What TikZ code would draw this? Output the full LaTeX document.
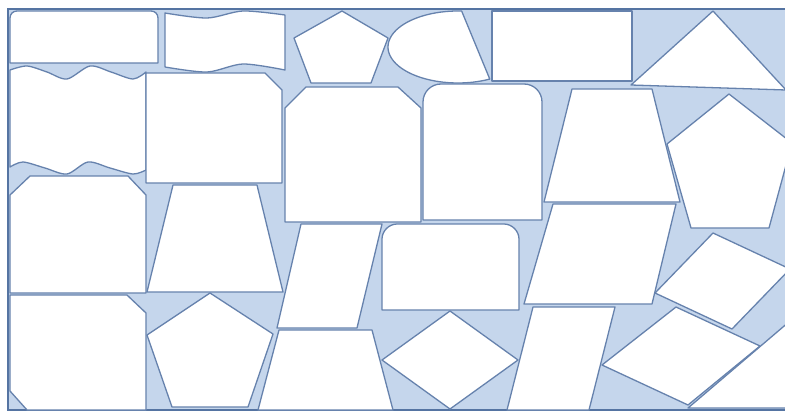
\documentclass[tikz,border=0pt]{standalone}
\definecolor{mPaleBlue}{HTML}{C5D6EC}
\definecolor{mSteelBlue}{HTML}{6682AD}
\definecolor{mFrameBlue}{HTML}{5574A2}
\usepackage{tikz}
\tikzset{tile/.style={draw=mSteelBlue, fill=white, line width=1.3pt, line join=round}}

\begin{document}
\begin{tikzpicture}[x=1pt, y=-1pt]
\useasboundingbox (0,0) rectangle (785,412);
\clip (0,0) rectangle (785,412);
\fill[white] (0,0) rectangle (785,412);
\draw[fill=mPaleBlue, draw=mFrameBlue, line width=1.6pt] (8,9) rectangle (800,410);
% top row
\draw[tile] (10,63) -- (10,18) .. controls (10,14) and (13,11) .. (17,11) -- (151,11) .. controls (155,11) and (158,14) .. (158,18) -- (158,63) -- cycle;
\draw[tile] plot[smooth] coordinates {(165,13) (207,18) (243,11) (285,15)} -- plot[smooth] coordinates {(285,70) (243,64) (207,72) (165,67)} -- cycle;
\draw[tile] (342,11) -- (388,38) -- (371,83) -- (311,83) -- (294,38) -- cycle;
\draw[tile] plot[domain=63:273, samples=60] ({458+70*cos(\x)}, {47+36*sin(\x)}) -- cycle;
\draw[tile] (492,11) rectangle (632,81);
\draw[tile] (713,11) -- (786,90) -- (631,85) -- cycle;
% second row
\draw[tile] plot[smooth] coordinates {(10,70) (27,66) (47,72) (67,79) (90,66) (111,72) (133,79) (146,72)} -- plot[smooth] coordinates {(146,170) (133,174) (110,168) (88,162) (67,174) (45,168) (23,162) (10,167)} -- cycle;
\draw[tile] (146,73) -- (265,73) -- (282,90) -- (282,183) -- (146,183) -- cycle;
\draw[tile] (285,222) -- (285,108) -- (306,87) -- (398,87) -- (421,108) -- (421,222) -- cycle;
\draw[tile] (423,220) -- (423,102) .. controls (423,92) and (431,84) .. (441,84) -- (524,84) .. controls (534,84) and (542,92) .. (542,102) -- (542,220) -- cycle;
\draw[tile] (572,89) -- (652,89) -- (680,202) -- (544,202) -- cycle;
\draw[tile] (729,94) -- (792,143) -- (769,228) -- (691,228) -- (667,144) -- cycle;
% third row
\draw[tile] (10,293) -- (10,195) -- (30,176) -- (128,176) -- (146,195) -- (146,293) -- cycle;
\draw[tile] (173,185) -- (257,185) -- (283,292) -- (147,292) -- cycle;
\draw[tile] (301,224) -- (382,224) -- (357,328) -- (277,328) -- cycle;
\draw[tile] (382,310) -- (382,239) .. controls (382,231) and (389,224) .. (397,224) -- (504,224) .. controls (512,224) and (519,231) .. (519,239) -- (519,310) -- cycle;
\draw[tile] (553,204) -- (676,204) -- (652,304) -- (524,304) -- cycle;
\draw[tile] (713,233) -- (790,269) -- (732,329) -- (655,293) -- cycle;
% bottom row
\draw[tile] (10,295) -- (127,295) -- (146,313) -- (146,410) -- (27,410) -- (10,391) -- cycle;
\draw[tile] (210,293) -- (273,334) -- (248,407) -- (172,407) -- (147,335) -- cycle;
\draw[tile] (279,330) -- (372,330) -- (393,410) -- (258,410) -- cycle;
\draw[tile] (450,311) -- (518,360) -- (450,409) -- (382,360) -- cycle;
\draw[tile] (533,307) -- (615,307) -- (589,410) -- (507,410) -- cycle;
\draw[tile] (688,408) -- (790,321) -- (790,408) -- cycle;
\draw[tile] (676,307) -- (760,346) -- (688,405) -- (602,365) -- cycle;
\end{tikzpicture}
\end{document}
